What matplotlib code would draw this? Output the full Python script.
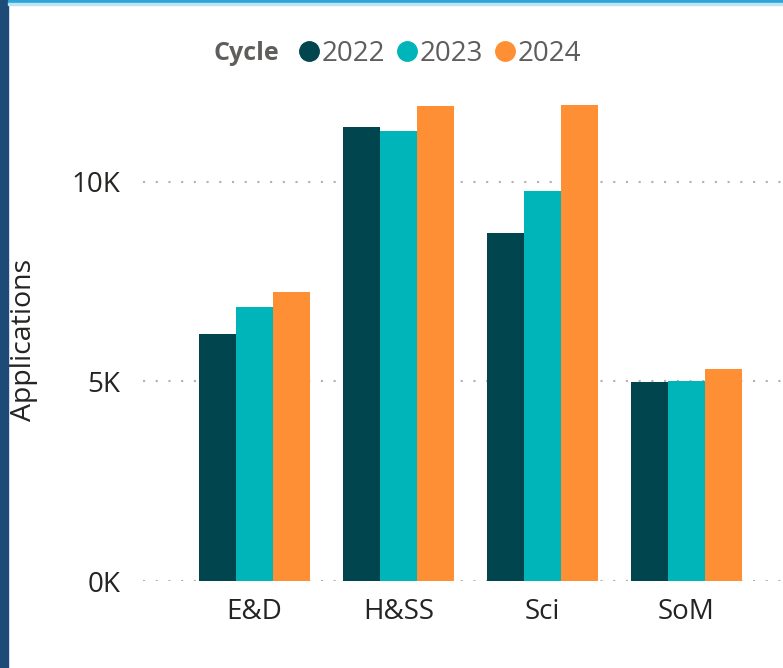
import matplotlib.pyplot as plt
from matplotlib.lines import Line2D
from matplotlib.patches import Rectangle
import numpy as np

# Dados
categorias = ['E&D', 'H&SS', 'Sci', 'SoM']
ciclos = ['2022', '2023', '2024']
apps_2022 = [6190, 11370, 8730, 4980]
apps_2023 = [6860, 11290, 9780, 5020]
apps_2024 = [7250, 11900, 11940, 5320]
cores = ['#01454f', '#00b5b9', '#fe8f34']

plt.rcParams['font.family'] = ['Open Sans', 'DejaVu Sans']

W, H = 783, 668
fig = plt.figure(figsize=(W / 100, H / 100), dpi=100)
fig.patch.set_facecolor('white')

# Moldura (faixa esquerda e linha superior)
fig.patches.append(Rectangle((0, 0), 8 / W, 1, transform=fig.transFigure,
                             color='#1d4a76', zorder=5))
fig.patches.append(Rectangle((8 / W, 1 - 3 / H), 1, 3 / H, transform=fig.transFigure,
                             color='#2aa7d8', zorder=5))
fig.patches.append(Rectangle((8 / W, 1 - 5 / H), 1, 2 / H, transform=fig.transFigure,
                             color='#bfe3f3', zorder=5))

ax = fig.add_axes([143 / W, (H - 581) / H, (W - 143) / W, (581 - 80) / H])

x = np.arange(len(categorias))
w = 0.255
series = [apps_2022, apps_2023, apps_2024]
for i, vals in enumerate(series):
    ax.bar(x + (i - 1) * w, vals, width=w, color=cores[i], zorder=3)

ax.set_xlim(-0.774, 3.670)
ax.set_ylim(0, 12556)
ax.set_yticks([0, 5000, 10000])
ax.set_yticklabels(['0K', '5K', '10K'])
ax.set_xticks(x)
ax.set_xticklabels(categorias)

for s in ax.spines.values():
    s.set_visible(False)
ax.tick_params(axis='both', length=0, labelsize=20, colors='#252423')
ax.tick_params(axis='y', pad=16.5)
ax.tick_params(axis='x', pad=12)
ax.yaxis.grid(True, color='#b3b0ad', linewidth=1.5, linestyle=(0, (1, 5.1)), zorder=0)
ax.set_axisbelow(True)

fig.text(24 / W, 1 - 340 / H, 'Applications', rotation=90, ha='center', va='center',
         fontsize=20.5, color='#252423')

# Legenda
fig.text(213 / W, 1 - 54 / H, 'Cycle', fontsize=18, fontweight='bold', color='#605e5c',
         ha='left', va='center')
handles = [Line2D([], [], marker='o', linestyle='', color=c, markersize=14) for c in cores]
fig.legend(handles, ciclos, ncol=3, loc='center left', bbox_to_anchor=(299 / W, 1 - 54 / H),
           frameon=False, fontsize=20, labelcolor='#605e5c', borderpad=0, borderaxespad=0,
           handlelength=0.7, handletextpad=0.1, columnspacing=0.45)

plt.savefig('out.png', dpi=100)
